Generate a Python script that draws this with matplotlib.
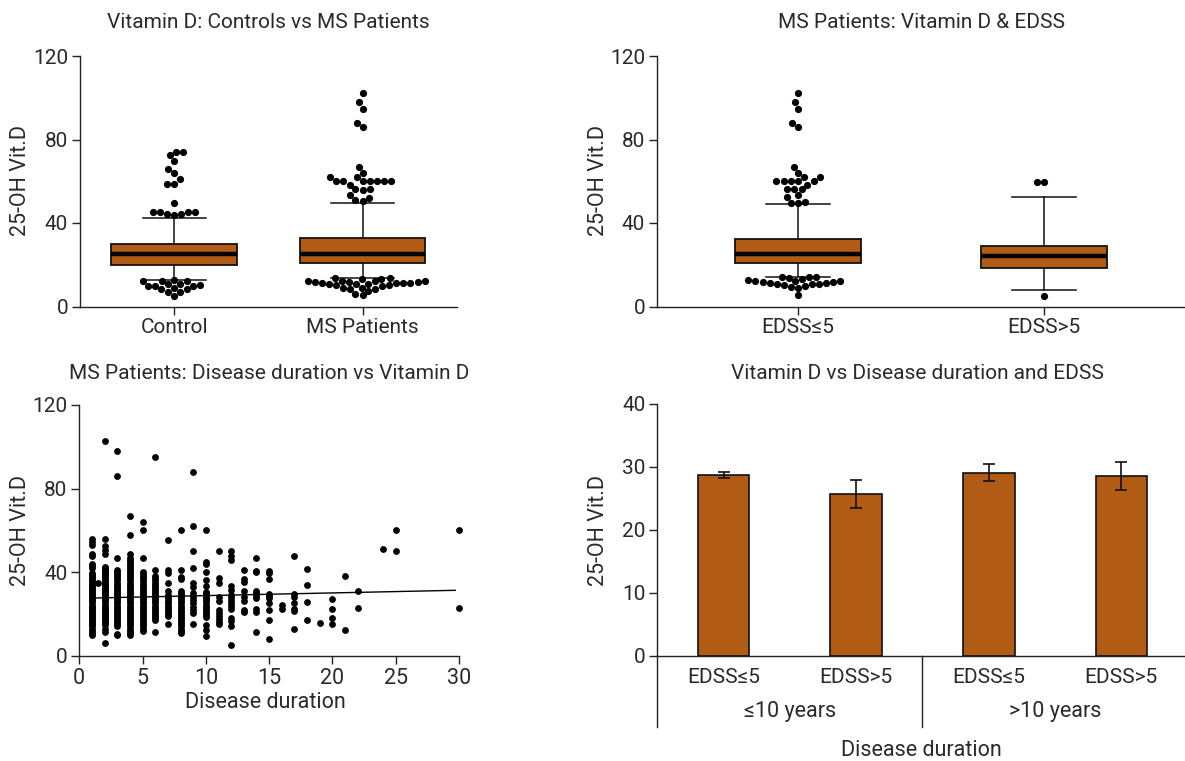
import numpy as np
import matplotlib
matplotlib.use('Agg')
import matplotlib.pyplot as plt
from matplotlib.transforms import blended_transform_factory

plt.rcParams['font.family'] = ['Roboto', 'DejaVu Sans']

TXT = '#2a2a2a'
FILL = '#B25B15'
W, H = 1185, 761

# ---------------- box plots ----------------
grp_labels = ['Control', 'MS Patients']
grp_q1 = [19.7, 21.0]
grp_med = [25.0, 25.3]
grp_q3 = [30.1, 32.8]
grp_lo = [12.7, 13.8]
grp_hi = [42.5, 49.8]
control_out = [74.2, 74.2, 72.6, 69.9, 66.0, 64.0, 61.1, 58.9, 58.9, 49.8,
               45.5, 45.5, 45.2, 45.2, 44.2, 44.2, 43.9,
               12.7, 12.4, 12.4, 12.2, 10.7, 10.7, 10.3, 9.9, 9.9, 9.9,
               8.9, 8.3, 8.3, 7.0, 7.0, 5.1]
ms_out = [102.5, 97.9, 94.8, 87.7, 85.8, 66.7, 63.8, 61.9, 61.9,
          60.0, 60.0, 60.0, 60.0, 60.0, 60.0, 60.0, 58.2, 56.2, 56.2, 55.8,
          53.2, 52.2, 50.9, 50.6,
          13.5, 13.5, 13.3, 13.0, 12.4, 12.4, 12.2, 12.2, 11.8, 11.7, 11.5,
          11.4, 11.4, 11.2, 11.2, 11.0, 10.7, 10.7, 10.1, 10.1, 9.6, 9.0,
          9.0, 8.6, 8.3, 7.5, 6.2, 5.5]

edss_labels = ['EDSS≤5', 'EDSS>5']
edss_q1 = [20.7, 18.3]
edss_med = [25.0, 24.3]
edss_q3 = [32.5, 29.1]
edss_lo = [14.2, 7.8]
edss_hi = [49.0, 52.4]
edss_low_out = [102.5, 97.9, 94.8, 87.7, 85.8, 66.7, 63.8, 61.9, 61.9,
                60.0, 60.0, 60.0, 60.0, 60.0, 58.2, 56.2, 56.2, 56.2,
                53.2, 52.6, 50.0, 49.8, 49.6,
                14.2, 14.2, 14.0, 13.6, 13.2, 12.8, 12.4, 12.2, 12.0, 11.8,
                11.6, 11.4, 11.2, 11.0, 10.8, 10.6, 10.2, 9.8, 9.4, 9.0, 5.5]
edss_high_out = [59.5, 59.5, 5.1]

# ---------------- scatter: disease duration vs vitamin D ----------------
d1 = [56, 54.5, 53, 48.5, 47.5, 44, 43, 42, 39.5, 38.5, 38, 37, 36, 35.5, 34.5,
      34, 33, 32, 31.5, 30.5, 30, 29, 28, 27.5, 26.5, 26, 25, 24, 23.5, 22.5,
      22, 21, 20, 19.5, 18.5, 18, 17, 16, 15.5, 14.5, 14, 13, 12, 11, 10]
d1_5 = [34.6]
d2 = [103, 56, 52.5, 50.5, 48.5, 42.5, 42, 41, 40, 39.5, 38.5, 38, 37, 36, 35.5,
      34.5, 34, 33, 32, 31.5, 30.5, 30, 29, 28, 27.5, 26.5, 26, 25, 24, 23.5,
      22.5, 22, 21, 20, 19.5, 18.5, 18, 17, 16, 15.5, 14.5, 13, 11.5, 6]
d3 = [98, 86, 47, 41, 40, 39, 38, 37, 36, 35, 34, 33, 32, 31, 30, 29, 28, 27,
      26, 25, 24, 23, 22, 21, 20, 19, 18, 17, 16, 15, 14, 10.5, 10]
d4 = [67, 58, 48.5, 47, 46, 45, 44, 43, 42, 41, 40, 39, 38, 37, 36, 35, 34, 33,
      32, 31, 30, 29, 28, 27, 26, 25, 24, 23, 22, 21, 20, 19, 18, 17, 16, 15,
      14, 13, 12, 11, 10]
d5 = [64, 60, 47, 40, 39, 38, 37, 36, 35, 34, 33, 32, 31, 30, 29, 28, 27, 26,
      25, 24, 23, 22, 21, 20, 19, 18, 17, 16, 15, 14, 13, 12]
d6 = [95, 41, 38, 37, 36, 35, 34, 33, 32, 31, 30, 29, 28, 27, 26, 25, 24, 23,
      22, 21, 20, 19, 18, 17, 11.5]
d7 = [55.5, 41, 39.5, 35, 31, 29, 28, 27, 26, 25, 24, 23, 22, 21, 20, 19, 15]
d8 = [60, 41, 37.5, 36.5, 31, 30, 29, 28, 27, 26, 25, 24, 23, 22, 21, 20, 19,
      18, 17, 16, 15, 14, 13, 12, 11]
d9 = [88, 62, 50, 42, 35, 33, 30, 28, 26.5, 25, 23.5, 22, 20.5, 15]
d10 = [60, 45, 44, 40, 36, 33.5, 30.5, 29.5, 28.5, 27.5, 26.5, 25.5, 24.5, 23.5,
       22.5, 21.5, 20.5, 19.5, 18.5, 14.5, 12.5, 9.5]
d11 = [50, 37, 35, 28, 26, 22, 20.5, 19, 17.5, 16, 15]
d12 = [50, 47.5, 46, 33.5, 31.5, 29, 28, 26.5, 25, 24, 22.5, 18, 16.5, 14, 5]
d13 = [41, 36.5, 35.5, 31, 28, 26, 22, 21]
d14 = [47, 40.5, 40, 31, 30, 28.5, 27.5, 22.5, 21, 11.5]
d15 = [40.5, 39.5, 36.5, 29.5, 28.5, 27.5, 25, 22, 17, 8]
d16 = [24.5, 22.5]
d17 = [47.5, 29.5, 28, 25, 22.5, 21.5, 13]
d18 = [41.5, 34, 25.5, 17]
d19 = [15.5]
d20 = [27, 22.5, 18, 15]
d21 = [38, 12.5]
d22 = [31, 23]
d24 = [51]
d25 = [60, 50]
d30 = [60, 23]
durations = [1, 1.5, 2, 3, 4, 5, 6, 7, 8, 9, 10, 11, 12, 13, 14, 15, 16, 17,
             18, 19, 20, 21, 22, 24, 25, 30]
columns = [d1, d1_5, d2, d3, d4, d5, d6, d7, d8, d9, d10, d11, d12, d13, d14,
           d15, d16, d17, d18, d19, d20, d21, d22, d24, d25, d30]
fit_x = [1, 29.7]
fit_y = [27.6, 31.3]

# ---------------- bars ----------------
bar_labels = ['EDSS≤5', 'EDSS>5', 'EDSS≤5', 'EDSS>5']
bar_means = [28.7, 25.7, 29.1, 28.6]
bar_err = [0.5, 2.3, 1.3, 2.25]
dur_groups = ['≤10 years', '>10 years']

FS_TICK = 15
FS_LAB = 15.5


def ax_rect(l, t, r, b):
    return [l / W, 1 - b / H, (r - l) / W, (b - t) / H]


def style(ax):
    for s in ['top', 'right']:
        ax.spines[s].set_visible(False)
    for s in ['left', 'bottom']:
        ax.spines[s].set_color('#222222')
        ax.spines[s].set_linewidth(1.0)
    ax.tick_params(colors='#222222', labelcolor=TXT, labelsize=FS_TICK,
                   length=5.5, width=1.0, pad=3)


def swarm_x(ax, xc, values, diam):
    # simple beeswarm in pixel space
    pts = ax.transData.transform([(xc, v) for v in values])
    order = np.argsort(values, kind='stable')
    placed = []
    dx = np.zeros(len(values))
    for i in order:
        y = pts[i, 1]
        blocked = []
        for px, py in placed:
            dy = abs(py - y)
            if dy < diam:
                h = np.sqrt(diam ** 2 - dy ** 2)
                blocked.append((px - h, px + h))
        cands = [0.0] + [b[0] for b in blocked] + [b[1] for b in blocked]
        cands.sort(key=abs)
        for c in cands:
            if all(not (lo + 1e-6 < c < hi - 1e-6) for lo, hi in blocked):
                break
        placed.append((c, y))
        dx[i] = c
    x0 = ax.transData.transform((xc, 0))[0]
    inv = ax.transData.inverted()
    return [inv.transform((x0 + d, 0))[0] for d in dx]


def box_panel(ax, labels, q1, med, q3, lo, hi, outs, width, xlim):
    stats = []
    for i in range(len(labels)):
        stats.append(dict(med=med[i], q1=q1[i], q3=q3[i], whislo=lo[i],
                          whishi=hi[i], fliers=[]))
    pos = list(range(len(labels)))
    ax.bxp(stats, positions=pos, widths=width, capwidths=width / 2,
           patch_artist=True, showfliers=False,
           boxprops=dict(facecolor=FILL, edgecolor='#111111', linewidth=1.3),
           medianprops=dict(color='black', linewidth=3.2),
           whiskerprops=dict(color='#111111', linewidth=1.1),
           capprops=dict(color='#111111', linewidth=1.1))
    ax.set_xlim(*xlim)
    ax.set_ylim(0, 120)
    ax.set_yticks([0, 40, 80, 120])
    ax.set_xticks(pos)
    ax.set_xticklabels(labels, fontsize=FS_LAB)
    style(ax)
    for i, vals in enumerate(outs):
        xs = swarm_x(ax, pos[i], vals, 7.2)
        ax.scatter(xs, vals, s=27, color='black', linewidths=0, zorder=3,
                   clip_on=False)


fig = plt.figure(figsize=(W / 100, H / 100), dpi=100)

# top left
ax1 = fig.add_axes(ax_rect(80, 56, 456.7, 306.5))
box_panel(ax1, grp_labels, grp_q1, grp_med, grp_q3, grp_lo, grp_hi,
          [control_out, ms_out], 0.667, (-0.5, 1.5))

# top right
ax2 = fig.add_axes(ax_rect(657, 56, 1185, 306.5))
box_panel(ax2, edss_labels, edss_q1, edss_med, edss_q3, edss_lo, edss_hi,
          [edss_low_out, edss_high_out], 0.514, (-0.573, 1.573))

# bottom left
ax3 = fig.add_axes(ax_rect(79.3, 405, 459, 655.7))
for d, vals in zip(durations, columns):
    ax3.scatter([d] * len(vals), vals, s=24, color='black', linewidths=0,
                zorder=3, clip_on=False)
ax3.plot(fit_x, fit_y, color='black', linewidth=1.0, zorder=4)
ax3.set_xlim(0, 30)
ax3.set_ylim(0, 120)
ax3.set_xticks([0, 5, 10, 15, 20, 25, 30])
ax3.set_yticks([0, 40, 80, 120])
style(ax3)
ax3.tick_params(axis='x', labelsize=FS_LAB)

# bottom right
ax4 = fig.add_axes(ax_rect(657.3, 404, 1185, 655.7))
xpos = np.arange(len(bar_means))
ax4.bar(xpos, bar_means, width=0.39, color=FILL, edgecolor='#111111',
        linewidth=1.2, zorder=2)
ax4.errorbar(xpos, bar_means, yerr=bar_err, fmt='none', ecolor='#111111',
             elinewidth=1.2, capsize=4, capthick=1.2, zorder=3)
ax4.set_xlim(-0.5, 3.48)
ax4.set_ylim(0, 40)
ax4.set_yticks([0, 10, 20, 30, 40])
ax4.set_xticks(xpos)
ax4.set_xticklabels(bar_labels, fontsize=FS_LAB)
style(ax4)
ax4.tick_params(axis='x', length=0, pad=9)
tr = blended_transform_factory(ax4.transData, ax4.transAxes)
for xv in [-0.5, 1.5]:
    ax4.plot([xv, xv], [0, -0.283], transform=tr, color='#222222',
             linewidth=1.0, clip_on=False)
for xv, lab in zip([0.5, 2.5], dur_groups):
    ax4.text(xv, -0.2225, lab, transform=tr, ha='center', va='center',
             fontsize=FS_LAB, color=TXT)
ax4.text(0.5, -0.375, 'Disease duration', transform=ax4.transAxes,
         ha='center', va='center', fontsize=FS_LAB, color=TXT)

# titles and axis labels
titles = [('Vitamin D: Controls vs MS Patients', 268, 23),
          ('MS Patients: Vitamin D & EDSS', 921, 23),
          ('MS Patients: Disease duration vs Vitamin D', 269, 374),
          ('Vitamin D vs Disease duration and EDSS', 917, 374)]
for t, x, y in titles:
    fig.text(x / W, 1 - y / H, t, ha='center', va='center', fontsize=15,
             color=TXT)
for x, y in [(21, 181), (598, 181), (21, 530), (598, 530)]:
    fig.text(x / W, 1 - y / H, '25-OH Vit.D', rotation=90, ha='center',
             va='center', fontsize=FS_LAB, color=TXT)
fig.text(265 / W, 1 - 702 / H, 'Disease duration', ha='center', va='center',
         fontsize=FS_LAB, color=TXT)

fig.savefig('out.png', dpi=100)
